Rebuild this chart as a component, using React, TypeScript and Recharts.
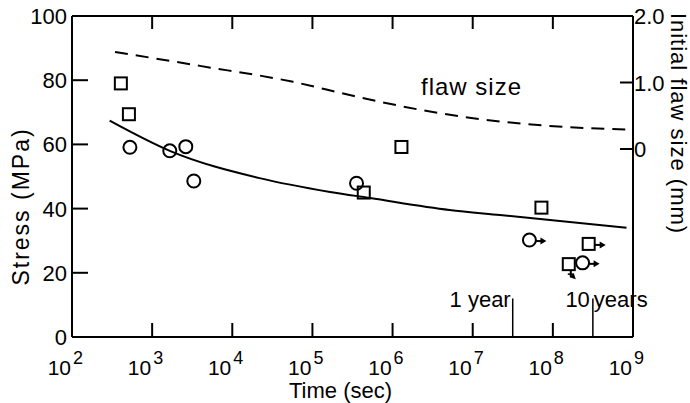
import React from 'react';
import { ComposedChart, Line, Scatter, XAxis, YAxis, ReferenceLine, ReferenceDot } from 'recharts';

const FONT = '"Liberation Sans", Arial, sans-serif';

// Axes
const xTicks = [1e2, 1e3, 1e4, 1e5, 1e6, 1e7, 1e8, 1e9];
const stressTicks = [0, 20, 40, 60, 80, 100];
const flawTicks = [0, 1, 2];
const flawTickLabels = ['0', '1.0', '2.0'];
const xTitle = 'Time (sec)';
const yTitle = 'Stress (MPa)';
const y2Title = 'Initial flaw size (mm)';

// Fitted stress curve (solid)
const fitTime = [295, 1660, 21900, 166000, 525000, 5130000, 21900000, 830000000];
const fitStress = [67.4, 58, 49.5, 45.2, 43.3, 39.6, 38, 34];

// Initial flaw size curve (dashed, right axis)
const flawTime = [344, 3950, 57300, 320000, 2200000, 12300000, 84500000, 918000000];
const flawSize = [1.46, 1.25, 1.01, 0.8, 0.59, 0.45, 0.35, 0.29];

// Square symbols
const sqTime = [407, 513, 437000, 1290000, 72000000, 158000000, 280000000];
const sqStress = [79, 69.4, 45, 59.2, 40.3, 22.7, 29];
const sqRunout = ['', '', '', '', '', 'down', 'right'];

// Circle symbols
const ciTime = [528, 1660, 2630, 3310, 355000, 51000000, 235000000];
const ciStress = [59.1, 58, 59.3, 48.6, 47.9, 30.2, 23.1];
const ciRunout = ['', '', '', '', '', 'right', 'right'];

// Annotations
const YEAR = 3.156e7;
const TEN_YEARS = 3.156e8;
const markerTop = 12;
const flawLabelAt = { t: 2.33e6, flaw: 0.8 };

const fitData = fitTime.map((t, i) => ({ t, stress: fitStress[i] }));
const flawData = flawTime.map((t, i) => ({ t, flaw: flawSize[i] }));
const sqData = sqTime.map((t, i) => ({ t, stress: sqStress[i], runout: sqRunout[i] }));
const ciData = ciTime.map((t, i) => ({ t, stress: ciStress[i], runout: ciRunout[i] }));

// Layout
const W = 690;
const H = 403;
const M = { top: 16, right: 57, bottom: 66, left: 72 };
const PLOT_W = W - M.left - M.right;
const PLOT_H = H - M.top - M.bottom;
const X_MIN = xTicks[0];
const X_MAX = xTicks[xTicks.length - 1];
const Y_MIN = stressTicks[0];
const Y_MAX = stressTicks[stressTicks.length - 1];

const L_TICK = 16;
const B_TICK = 14;
const R_TICK = 13;
const T_TICK = 13;
const K = '#000';

// tick lengths expressed through the axis scales
const leftTickEnd = X_MIN * Math.pow(X_MAX / X_MIN, L_TICK / PLOT_W);
const bottomTickEnd = Y_MIN + ((Y_MAX - Y_MIN) * B_TICK) / PLOT_H;

// Titles
const leftTitle = (p: any) => {
  const x = Math.min(p.x1, p.x2);
  const yTop = Math.min(p.y1, p.y2);
  const yBot = Math.max(p.y1, p.y2);
  const cx = x - 51;
  const cy = (yTop + yBot) / 2 + 30;
  return (
    <text x={cx} y={cy} transform={`rotate(-90 ${cx} ${cy})`} textAnchor="middle" dominantBaseline="central" fontSize={23} letterSpacing={2} fontFamily={FONT} fill={K}>
      {yTitle}
    </text>
  );
};
const rightFrame = (p: any) => {
  const x = Math.max(p.x1, p.x2);
  const yTop = Math.min(p.y1, p.y2);
  const yBot = Math.max(p.y1, p.y2);
  const cx = x + 45;
  const cy = (yTop + yBot) / 2 - 53;
  return (
    <g>
      <line x1={x} y1={yTop} x2={x} y2={yBot} stroke={K} strokeWidth={2} />
      <text x={cx} y={cy} transform={`rotate(90 ${cx} ${cy})`} textAnchor="middle" dominantBaseline="central" fontSize={22} letterSpacing={1} fontFamily={FONT} fill={K}>
        {y2Title}
      </text>
    </g>
  );
};
const bottomTitle = (p: any) => {
  const xl = Math.min(p.x1, p.x2);
  const xr = Math.max(p.x1, p.x2);
  return (
    <text x={(xl + xr) / 2 - 12} y={p.y1 + 61} textAnchor="middle" fontSize={22} fontFamily={FONT} fill={K}>
      {xTitle}
    </text>
  );
};
const topFrame = (p: any) => (
  <line x1={Math.min(p.x1, p.x2)} y1={p.y1} x2={Math.max(p.x1, p.x2)} y2={p.y1} stroke={K} strokeWidth={2} />
);

// Tick labels (and right/top tick marks)
const leftLabelShape = (p: any, label: string) => {
  const xl = Math.min(p.x1, p.x2);
  return (
    <text x={xl - 5} y={p.y1 + 8} textAnchor="end" fontSize={22} fontFamily={FONT} fill={K}>{label}</text>
  );
};
const rightTickShape = (p: any, label: string) => {
  const xr = Math.max(p.x1, p.x2);
  return (
    <g>
      <line x1={xr - R_TICK} y1={p.y1} x2={xr} y2={p.y1} stroke={K} strokeWidth={2} />
      <text x={xr + 1} y={p.y1 + 8} textAnchor="start" fontSize={22} fontFamily={FONT} fill={K}>{label}</text>
    </g>
  );
};
const vertTickShape = (p: any, exp: number) => {
  const yb = Math.max(p.y1, p.y2);
  const yt = Math.min(p.y1, p.y2);
  const x = p.x1;
  return (
    <g>
      <line x1={x} y1={yt} x2={x} y2={yt + T_TICK} stroke={K} strokeWidth={2} />
      <text x={x - 1} y={yb + 38} textAnchor="end" fontSize={21} fontFamily={FONT} fill={K}>10</text>
      <text x={x + 1} y={yb + 27} textAnchor="start" fontSize={18} fontFamily={FONT} fill={K}>{exp}</text>
    </g>
  );
};

const Marker = (p: any) => {
  const { cx, cy, payload, kind } = p;
  if (cx == null || cy == null) return null;
  const shape =
    kind === 'square' ? (
      <rect x={cx - 6} y={cy - 6} width={12} height={12} fill="none" stroke={K} strokeWidth={2} />
    ) : (
      <circle cx={cx} cy={cy} r={6.5} fill="none" stroke={K} strokeWidth={2} />
    );
  let arrow = null;
  if (payload.runout === 'right') {
    const x0 = cx + 6;
    const y0 = cy + 1;
    arrow = (
      <g>
        <line x1={x0} y1={y0} x2={x0 + 7} y2={y0} stroke={K} strokeWidth={2} />
        <path d={`M${x0 + 11},${y0} L${x0 + 5},${y0 - 3.5} L${x0 + 5},${y0 + 3.5} Z`} fill={K} />
      </g>
    );
  } else if (payload.runout === 'down') {
    const x0 = cx + 2;
    const y0 = cy + 6;
    arrow = (
      <g>
        <line x1={x0} y1={y0} x2={x0} y2={y0 + 7} stroke={K} strokeWidth={2} />
        <line x1={x0 - 3} y1={y0 + 4} x2={x0 + 3} y2={y0 + 4} stroke={K} strokeWidth={1.5} />
        <path d={`M${x0 + 5},${y0 + 9} L${x0 - 1},${y0 + 7} L${x0 + 3},${y0 + 3} Z`} fill={K} />
      </g>
    );
  }
  return (
    <g>
      {shape}
      {arrow}
    </g>
  );
};

const vbX = (vb: any) => (vb.x != null ? vb.x : vb.x1);
const vbY = (vb: any) => (vb.y != null ? vb.y : Math.min(vb.y1, vb.y2));

export default function App() {
  return (
    <div style={{ position: 'absolute', left: 0, top: 0, width: W, height: H, background: '#fff' }}>
      <ComposedChart width={W} height={H} margin={M}>
        <XAxis xAxisId="bottom" dataKey="t" type="number" scale="log" domain={[X_MIN, X_MAX]} allowDataOverflow ticks={xTicks} hide />
        <YAxis yAxisId="left" dataKey="stress" type="number" domain={[Y_MIN, Y_MAX]} allowDataOverflow ticks={stressTicks} hide />
        <YAxis yAxisId="right" orientation="right" dataKey="flaw" type="number" domain={[-2.827, 2]} allowDataOverflow ticks={flawTicks} hide />

        <Line
          data={flawData}
          dataKey="flaw"
          xAxisId="bottom"
          yAxisId="right"
          type="monotone"
          stroke={K}
          strokeWidth={2}
          strokeDasharray="13 8"
          dot={false}
          activeDot={false}
          isAnimationActive={false}
        />
        <Line
          data={fitData}
          dataKey="stress"
          xAxisId="bottom"
          yAxisId="left"
          type="monotone"
          stroke={K}
          strokeWidth={2}
          dot={false}
          activeDot={false}
          isAnimationActive={false}
        />
        <Scatter
          data={sqData}
          dataKey="stress"
          xAxisId="bottom"
          yAxisId="left"
          isAnimationActive={false}
          shape={(p: any) => <Marker {...p} kind="square" />}
        />
        <Scatter
          data={ciData}
          dataKey="stress"
          xAxisId="bottom"
          yAxisId="left"
          isAnimationActive={false}
          shape={(p: any) => <Marker {...p} kind="circle" />}
        />

        <ReferenceLine xAxisId="bottom" yAxisId="left" x={X_MIN} ifOverflow="visible" shape={leftTitle} />
        <ReferenceLine xAxisId="bottom" yAxisId="left" x={X_MAX} ifOverflow="visible" shape={rightFrame} />
        <ReferenceLine xAxisId="bottom" yAxisId="left" y={Y_MIN} ifOverflow="visible" shape={bottomTitle} />
        <ReferenceLine xAxisId="bottom" yAxisId="left" y={Y_MAX} ifOverflow="visible" shape={topFrame} />

        {stressTicks.map((v) => (
          <ReferenceLine key={`ll${v}`} xAxisId="bottom" yAxisId="left" y={v} ifOverflow="visible" shape={(p: any) => leftLabelShape(p, String(v))} />
        ))}
        {flawTicks.map((v, i) => (
          <ReferenceLine key={`rt${v}`} xAxisId="bottom" yAxisId="right" y={v} ifOverflow="visible" shape={(p: any) => rightTickShape(p, flawTickLabels[i])} />
        ))}
        {xTicks.map((v) => (
          <ReferenceLine key={`xt${v}`} xAxisId="bottom" yAxisId="left" x={v} ifOverflow="visible" shape={(p: any) => vertTickShape(p, Math.round(Math.log10(v)))} />
        ))}

        <ReferenceLine
          xAxisId="bottom"
          yAxisId="left"
          segment={[{ x: YEAR, y: 0 }, { x: YEAR, y: markerTop }]}
          stroke={K}
          strokeWidth={1.5}
          label={{
            content: (lp: any) => {
              const vb = lp.viewBox || {};
              return (
                <text x={vbX(vb) - 2} y={vbY(vb) + 9} textAnchor="end" fontSize={22} fontFamily={FONT} fill={K}>
                  1 year
                </text>
              );
            },
          }}
        />
        <ReferenceLine
          xAxisId="bottom"
          yAxisId="left"
          segment={[{ x: TEN_YEARS, y: 0 }, { x: TEN_YEARS, y: markerTop }]}
          stroke={K}
          strokeWidth={1.5}
          label={{
            content: (lp: any) => {
              const vb = lp.viewBox || {};
              return (
                <g>
                  <text x={vbX(vb) - 3} y={vbY(vb) + 9} textAnchor="end" fontSize={22} fontFamily={FONT} fill={K}>
                    10
                  </text>
                  <text x={vbX(vb) + 1} y={vbY(vb) + 9} textAnchor="start" fontSize={22} fontFamily={FONT} fill={K}>
                    years
                  </text>
                </g>
              );
            },
          }}
        />
        <ReferenceDot
          xAxisId="bottom"
          yAxisId="right"
          x={flawLabelAt.t}
          y={flawLabelAt.flaw}
          r={1}
          fill="none"
          stroke="none"
          label={{
            content: (lp: any) => {
              const vb = lp.viewBox || {};
              return (
                <text x={vbX(vb)} y={vbY(vb)} textAnchor="start" fontSize={24} letterSpacing={1} fontFamily={FONT} fill={K}>
                  flaw size
                </text>
              );
            },
          }}
        />

        {/* left and bottom frame lines and their inward ticks, as plain segments */}
        <ReferenceLine
          xAxisId="bottom"
          yAxisId="left"
          ifOverflow="visible"
          segment={[{ x: X_MIN, y: Y_MIN }, { x: X_MIN, y: Y_MAX }]}
          stroke={K}
          strokeWidth={2}
        />
        <ReferenceLine
          xAxisId="bottom"
          yAxisId="left"
          ifOverflow="visible"
          segment={[{ x: X_MIN, y: Y_MIN }, { x: X_MAX, y: Y_MIN }]}
          stroke={K}
          strokeWidth={2}
        />
        {stressTicks.map((v) => (
          <ReferenceLine
            key={`ls${v}`}
            xAxisId="bottom"
            yAxisId="left"
            ifOverflow="visible"
            segment={[{ x: X_MIN, y: v }, { x: leftTickEnd, y: v }]}
            stroke={K}
            strokeWidth={2}
          />
        ))}
        {xTicks.map((v) => (
          <ReferenceLine
            key={`bs${v}`}
            xAxisId="bottom"
            yAxisId="left"
            ifOverflow="visible"
            segment={[{ x: v, y: Y_MIN }, { x: v, y: bottomTickEnd }]}
            stroke={K}
            strokeWidth={2}
          />
        ))}
      </ComposedChart>
    </div>
  );
}
